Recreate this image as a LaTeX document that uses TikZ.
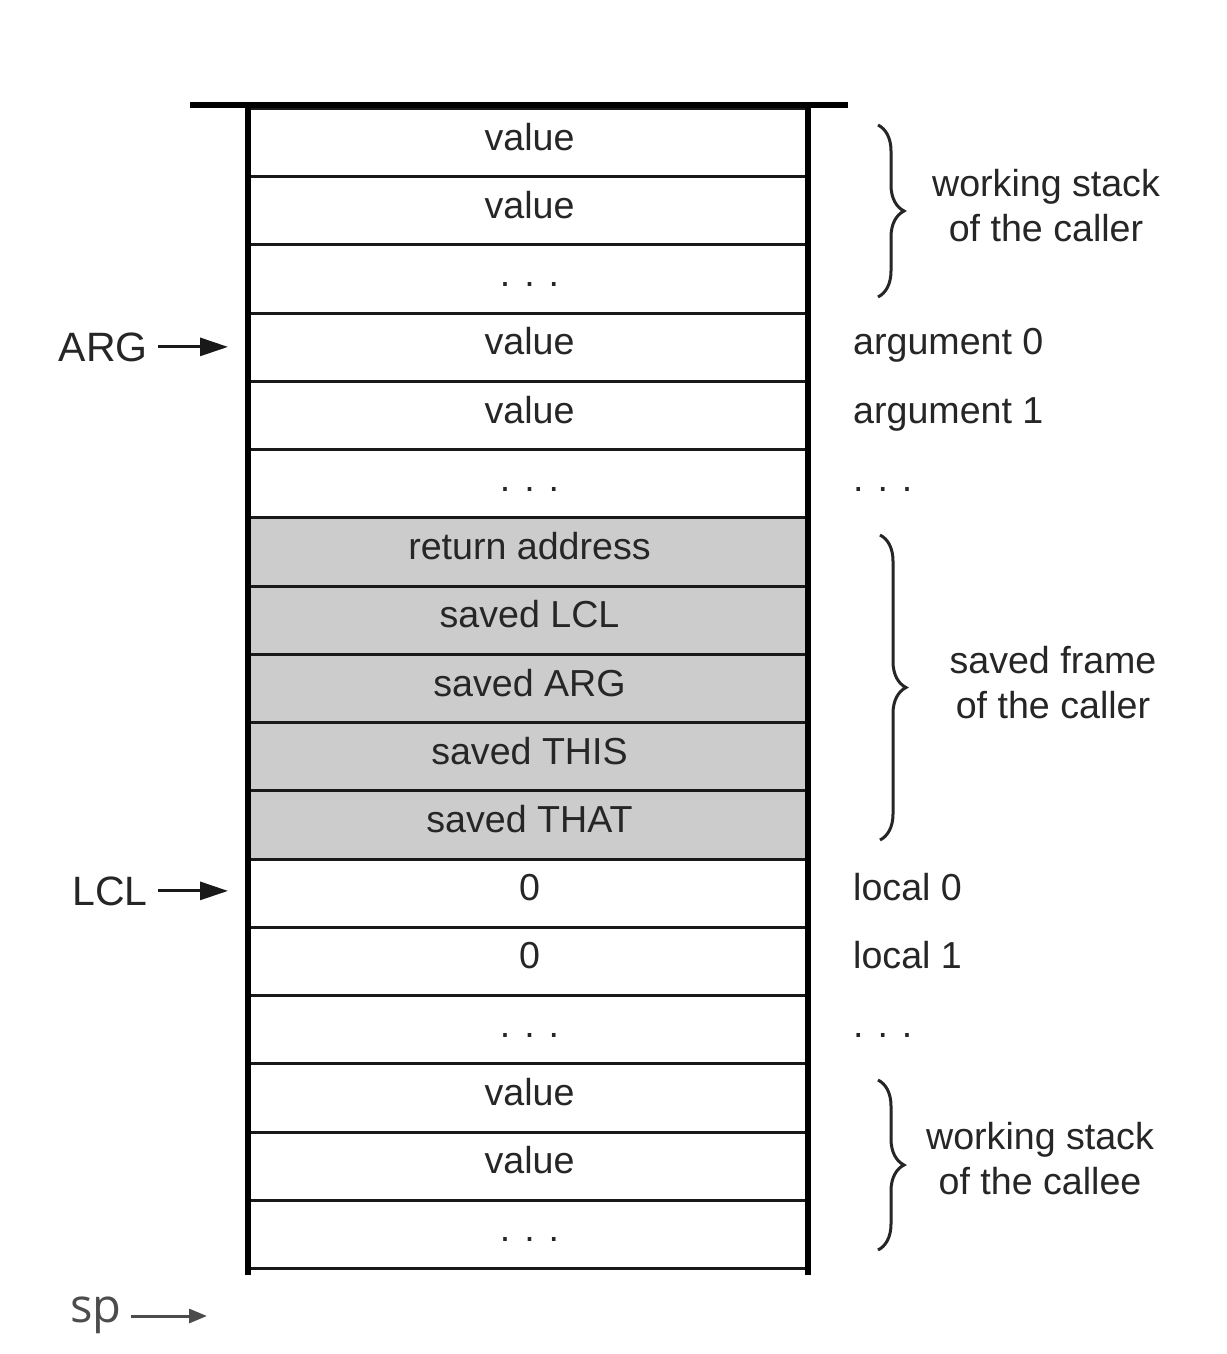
\documentclass[tikz,border=0pt]{standalone}
\usepackage{fontspec}
\setmainfont{Liberation Sans}
\newfontfamily\spfont{Open Sans}
\usetikzlibrary{decorations.pathreplacing,arrows.meta}
\definecolor{cellgray}{HTML}{CCCCCC}
\definecolor{txt}{HTML}{262626}
\begin{document}
\begin{tikzpicture}[x=1pt,y=-1pt,
  every node/.style={text=txt, font=\fontsize{37.6}{45}\selectfont},
  cell/.style={draw=black!90, line width=3pt, minimum width=560pt, minimum height=68.235pt,
    inner sep=0pt, text height=15pt, text depth=0pt, anchor=north west},
  rlab/.style={anchor=base west, inner sep=0pt, xshift=42pt},
  grp/.style={align=center, inner sep=0pt},
  frame/.style={line width=5.5pt, black},
  brc/.style={decorate, decoration={brace, amplitude=26pt, aspect=0.5}, line width=3pt, black!85},
  ptr/.style={-{Triangle[length=28pt,width=18pt]}, line width=3pt, black!90},
  lab/.style={inner sep=10pt, font=\fontsize{41}{45}\selectfont}
]
\useasboundingbox (0,0) rectangle (1226,1354);
\fill[white] (0,0) rectangle (1226,1354);

\foreach \t [count=\i from 0] in {value, value, {. . .}, value, value, {. . .},
    return address, saved LCL, saved ARG, saved THIS, saved THAT,
    0, 0, {. . .}, value, value, {. . .}} {
  \ifnum\i>5 \ifnum\i<11 \def\fc{cellgray}\else\def\fc{white}\fi\else\def\fc{white}\fi
  \node[cell, fill=\fc] (c\i) at (248, {107+\i*68.235}) {\t};
}

% frame
\draw[frame] (190,105) -- (848,105);
\draw[frame] (248,105) -- (248,1275);
\draw[frame] (808,105) -- (808,1275);

% right labels
\node[rlab] (arg0) at (c3.base east) {argument 0};
\node[rlab] (arg1) at (c4.base east) {argument 1};
\node[rlab] (argd) at (c5.base east) {. . .};
\node[rlab] (loc0) at (c11.base east) {local 0};
\node[rlab] (loc1) at (c12.base east) {local 1};
\node[rlab] (locd) at (c13.base east) {. . .};

% braces
\draw[brc] (878,125) -- (878,297);
\draw[brc] (880,535) -- (880,840);
\draw[brc] (878,1080) -- (878,1250);
\node[grp] (g1) at (1046,206) {working stack\\of the caller};
\node[grp] (g2) at (1053,683) {saved frame\\of the caller};
\node[grp] (g3) at (1040,1159) {working stack\\of the callee};

% pointers
\node[lab, anchor=base east] (arg) at (158,361) {ARG};
\coordinate (argtip) at (228,347);
\draw[ptr] (arg.east) -- (argtip |- arg.east);
\node[lab, anchor=base east] (lcl) at (158,905) {LCL};
\coordinate (lcltip) at (228,891);
\draw[ptr] (lcl.east) -- (lcltip |- lcl.east);
\node[lab, anchor=base east, inner sep=9pt, font=\spfont\fontsize{47}{50}\selectfont, text=black!70] (sp) at (131,1322) {sp};
\coordinate (sptip) at (207,1316);
\draw[-{Triangle[length=18pt,width=14pt]}, line width=3pt, black!70] (sp.east |- sptip) -- (sptip);
\end{tikzpicture}
\end{document}
